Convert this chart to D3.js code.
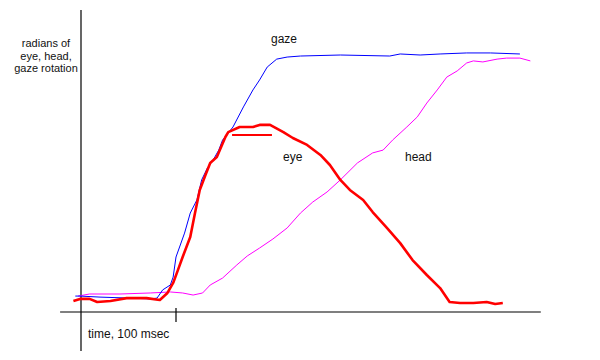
<!DOCTYPE html>
<html>
<head>
    <meta charset="utf-8">
    <style>
        body { margin: 0; background: #fff; }
        svg { display: block; font-family: Arial, 'Liberation Sans', sans-serif; }
    </style>
</head>
<body>
    <svg width="600" height="360"></svg>

<script src="https://d3js.org/d3.v7.min.js"></script>
<script>
    // time in msec, rotation in arbitrary units (gaze plateau = 1)
    let gazeT = [-6, -1, 20, 52, 73, 80, 86, 94, 97, 100, 109, 115, 122, 127, 133, 139, 145, 149, 160, 171, 181, 188, 196, 206, 217, 231, 273, 325, 336, 357, 378, 406, 431, 462]
    let gazeV = [0.062, 0.062, 0.058, 0.054, 0.051, 0.054, 0.086, 0.105, 0.136, 0.214, 0.307, 0.385, 0.436, 0.514, 0.560, 0.591, 0.630, 0.669, 0.720, 0.798, 0.864, 0.903, 0.953, 0.984, 0.992, 0.996, 1.0, 0.996, 1.004, 1.0, 1.004, 1.008, 1.008, 1.004]

    let eyeT = [-8, -1, 9, 17, 31, 48, 69, 83, 91, 97, 102, 107, 115, 120, 125, 131, 136, 143, 152, 155, 167, 181, 188, 199, 213, 223, 238, 252, 262, 273, 283, 297, 307, 322, 336, 349, 364, 378, 388, 399, 413, 427, 436, 444]
    let eyeV = [0.043, 0.051, 0.051, 0.039, 0.043, 0.054, 0.054, 0.047, 0.074, 0.113, 0.163, 0.214, 0.292, 0.385, 0.475, 0.533, 0.580, 0.603, 0.681, 0.700, 0.720, 0.720, 0.728, 0.728, 0.700, 0.677, 0.650, 0.611, 0.572, 0.514, 0.475, 0.436, 0.389, 0.327, 0.268, 0.202, 0.144, 0.093, 0.039, 0.035, 0.035, 0.039, 0.031, 0.035]

    let headT = [-3, 9, 41, 73, 94, 107, 118, 128, 136, 149, 164, 175, 188, 202, 217, 231, 244, 259, 273, 291, 307, 318, 328, 343, 354, 364, 375, 385, 396, 406, 413, 423, 438, 448, 462, 473]
    let headV = [0.062, 0.070, 0.070, 0.074, 0.078, 0.074, 0.066, 0.074, 0.105, 0.132, 0.183, 0.218, 0.249, 0.284, 0.327, 0.385, 0.428, 0.467, 0.514, 0.580, 0.619, 0.630, 0.669, 0.720, 0.759, 0.813, 0.864, 0.914, 0.938, 0.969, 0.977, 0.973, 0.984, 0.988, 0.988, 0.977]

    // short red marker next to the eye peak
    let markT = [159, 201]
    let markV = [0.689, 0.689]

    let svg = d3.select("svg")

    let x = d3.scaleLinear().domain([0, 100]).range([81, 176])
    let y = d3.scaleLinear().domain([0, 1]).range([312, 55])

    let line = d3.line()
        .x(d => x(d[0]))
        .y(d => y(d[1]))

    // axes
    svg.append("line")
        .attr("x1", x(-22)).attr("x2", x(484))
        .attr("y1", y(0)).attr("y2", y(0))
        .style("stroke", "#000").style("stroke-width", 1.2)

    svg.append("line")
        .attr("x1", x(0)).attr("x2", x(0))
        .attr("y1", 10).attr("y2", 351)
        .style("stroke", "#000").style("stroke-width", 1.2)

    // tick at 100 msec
    svg.append("line")
        .attr("x1", x(100)).attr("x2", x(100))
        .attr("y1", y(0) - 4).attr("y2", y(0) + 10)
        .style("stroke", "#000").style("stroke-width", 1.2)

    let series = [
        { t: headT, v: headV, color: "#ff00ff", w: 1 },
        { t: gazeT, v: gazeV, color: "#0000ff", w: 1 },
        { t: eyeT, v: eyeV, color: "#ff0000", w: 2.6 },
        { t: markT, v: markV, color: "#ff0000", w: 2 }
    ]

    svg.selectAll(".series")
        .data(series)
        .join("path")
        .attr("class", "series")
        .attr("d", s => line(s.t.map((t, i) => [t, s.v[i]])))
        .style("fill", "none")
        .style("stroke", s => s.color)
        .style("stroke-width", s => s.w)
        .style("stroke-linejoin", "round")

    // labels
    let labels = [
        { text: "gaze", x: 271, y: 43 },
        { text: "eye", x: 283, y: 161 },
        { text: "head", x: 405, y: 161 },
        { text: "time, 100 msec", x: 88, y: 338 }
    ]

    svg.selectAll(".lab")
        .data(labels)
        .join("text")
        .attr("class", "lab")
        .attr("x", d => d.x)
        .attr("y", d => d.y)
        .style("font-size", "12px")
        .style("fill", "#111")
        .text(d => d.text)

    let yTitle = ["radians of", "eye, head,", "gaze rotation"]
    svg.selectAll(".ytitle")
        .data(yTitle)
        .join("text")
        .attr("class", "ytitle")
        .attr("x", 46)
        .attr("y", (d, i) => 47 + i * 12.5)
        .attr("text-anchor", "middle")
        .style("font-size", "11px")
        .style("fill", "#111")
        .text(d => d)
</script>
</body>
</html>
